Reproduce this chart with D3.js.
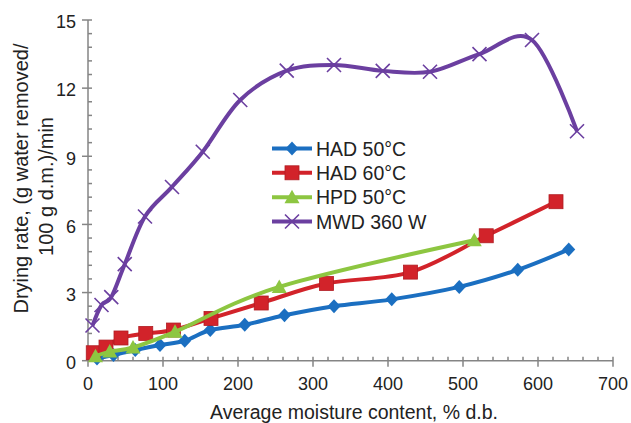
<!DOCTYPE html>
<html><head><meta charset="utf-8">
<script src="https://cdn.jsdelivr.net/npm/d3@7"></script>
<style>
body{margin:0;background:#fff;}
svg{display:block;font-family:"Liberation Sans",Arial,sans-serif;}
</style></head>
<body><svg id="c" width="631" height="423"></svg>
<script>
// ---- data ----
const seriesNames = ["HAD 50°C", "HAD 60°C", "HPD 50°C", "MWD 360 W"];
const had50 = [[12,0.1],[34,0.25],[63,0.47],[96,0.69],[129,0.88],[163,1.35],[209,1.58],[262,2.0],[328,2.4],[405,2.7],[495,3.25],[573,4.0],[641,4.9]];
const had60 = [[7,0.35],[24,0.6],[44,1.0],[77,1.2],[114,1.35],[164,1.86],[231,2.54],[318,3.4],[430,3.9],[531,5.5],[624,7.0]];
const hpd50 = [[10,0.2],[29,0.4],[60,0.58],[116,1.27],[255,3.25],[515,5.3]];
const mwd360 = [[6,1.55],[18,2.45],[31,2.8],[49,4.25],[76,6.35],[112,7.65],[153,9.2],[203,11.48],[265,12.77],[328,13.02],[393,12.76],[456,12.72],[522,13.5],[592,14.12],[652,10.1]];
const xTicks = [0,100,200,300,400,500,600,700];
const yTicks = [0,3,6,9,12,15];
const xTitle = "Average moisture content, % d.b.";
const yTitle1 = "Drying rate, (g water removed/";
const yTitle2 = "100 g d.m.)/min";

// ---- layout ----
const svg = d3.select("#c");
const x = d3.scaleLinear().domain([0,700]).range([88,613]);
const y = d3.scaleLinear().domain([0,15]).range([360.7,20]);
const axisColor = "#858585";

const colors = ["#1b6fc1","#d2232a","#8dc641","#6b3fa0"];
const shapes = ["diamond","square","triangle","cross"];
const datasets = [had50, had60, hpd50, mwd360];

// minor ticks
const xMinor = d3.range(0,701,20).filter(v => v % 100 !== 0);
const yMinor = d3.range(0,15.01,0.6).map(v=>+v.toFixed(1)).filter(v => Math.abs(v/3 - Math.round(v/3))>1e-6);

const gAx = svg.append("g").attr("stroke",axisColor).attr("stroke-width",1.5);
gAx.append("line").attr("x1",x(0)).attr("x2",x(700)).attr("y1",y(0)).attr("y2",y(0));
gAx.append("line").attr("x1",x(0)).attr("x2",x(0)).attr("y1",y(0)).attr("y2",y(15));
gAx.selectAll(".xM").data(xTicks).join("line")
  .attr("x1",d=>x(d)).attr("x2",d=>x(d)).attr("y1",y(0)-4).attr("y2",y(0)+6);
gAx.selectAll(".xm").data(xMinor).join("line")
  .attr("x1",d=>x(d)).attr("x2",d=>x(d)).attr("y1",y(0)-4).attr("y2",y(0));
gAx.selectAll(".yM").data(yTicks).join("line")
  .attr("y1",d=>y(d)).attr("y2",d=>y(d)).attr("x1",x(0)-6).attr("x2",x(0)+4);
gAx.selectAll(".ym").data(yMinor).join("line")
  .attr("y1",d=>y(d)).attr("y2",d=>y(d)).attr("x1",x(0)).attr("x2",x(0)+4);

// tick labels
svg.append("g").selectAll("text").data(xTicks).join("text")
  .attr("x",d=>x(d)).attr("y",390).attr("text-anchor","middle")
  .attr("font-size",18).attr("fill","#222").text(d=>d);
svg.append("g").selectAll("text").data(yTicks).join("text")
  .attr("x",76).attr("y",d=>y(d)).attr("dy","0.46em").attr("text-anchor","end")
  .attr("font-size",18).attr("fill","#222").text(d=>d);

// titles
svg.append("text").attr("x",354).attr("y",418.5).attr("text-anchor","middle")
  .attr("font-size",19.5).attr("fill","#222").text(xTitle);
svg.append("text").attr("transform","translate(28,178.5) rotate(-90)").attr("text-anchor","middle")
  .attr("font-size",20).attr("fill","#222").text(yTitle1);
svg.append("text").attr("transform","translate(53,186.5) rotate(-90)").attr("text-anchor","middle")
  .attr("font-size",20).attr("fill","#222").text(yTitle2);

// marker drawing
function drawMarker(g, shape, color, cx, cy){
  if(shape==="diamond"){
    g.append("path").attr("d",`M${cx},${cy-7}L${cx+6.5},${cy}L${cx},${cy+7}L${cx-6.5},${cy}Z`).attr("fill",color);
  } else if(shape==="square"){
    g.append("rect").attr("x",cx-7).attr("y",cy-7).attr("width",14).attr("height",14)
      .attr("fill",color).attr("stroke","#b01c22").attr("stroke-width",0.8);
  } else if(shape==="triangle"){
    g.append("path").attr("d",`M${cx},${cy-7.5}L${cx+7.5},${cy+6}L${cx-7.5},${cy+6}Z`).attr("fill",color);
  } else {
    g.append("path").attr("d",`M${cx-7},${cy-7}L${cx+7},${cy+7}M${cx+7},${cy-7}L${cx-7},${cy+7}`)
      .attr("stroke",color).attr("stroke-width",1.6).attr("fill","none");
  }
}

const line = d3.line().x(d=>x(d[0])).y(d=>y(d[1])).curve(d3.curveCardinal.tension(0));

datasets.forEach((data,i)=>{
  const g = svg.append("g");
  g.append("path").datum(data).attr("d",line).attr("fill","none")
    .attr("stroke",colors[i]).attr("stroke-width",4).attr("stroke-linejoin","round");
  data.forEach(d=>drawMarker(g, shapes[i], colors[i], x(d[0]), y(d[1])));
});

// legend
const legY = [148.5,172.8,197.2,221.5];
seriesNames.forEach((name,i)=>{
  const g = svg.append("g");
  g.append("line").attr("x1",272).attr("x2",312).attr("y1",legY[i]).attr("y2",legY[i])
    .attr("stroke",colors[i]).attr("stroke-width",4);
  drawMarker(g, shapes[i], colors[i], 292, legY[i]);
  g.append("text").attr("x",316).attr("y",legY[i]).attr("dy","0.36em")
    .attr("font-size",19.5).attr("fill","#222").text(name);
});
</script>
</body></html>
